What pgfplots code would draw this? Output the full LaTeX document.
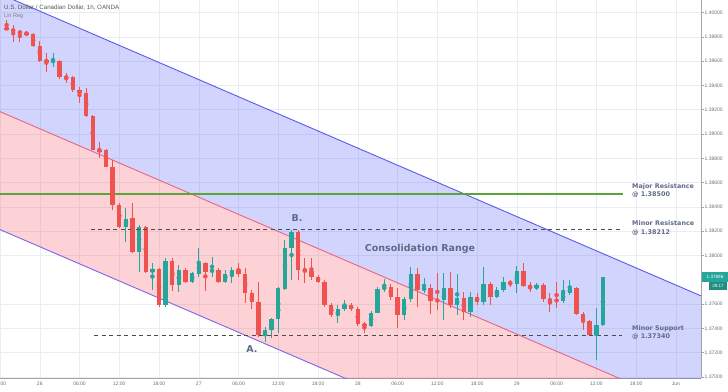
\documentclass[border=0pt]{standalone}
\usepackage{fontspec}
\setmainfont{Liberation Sans}
\newfontfamily\annotfont{DejaVu Sans}
\usepackage{pgfplots}
\usepackage{pgfplotstable}
\pgfplotsset{compat=1.18}
\definecolor{cup}{RGB}{38,166,154}
\definecolor{cdn}{RGB}{239,83,80}
\definecolor{bandblue}{RGB}{71,83,243}
\definecolor{bandred}{RGB}{243,75,95}
\definecolor{lineblue}{RGB}{88,92,232}
\definecolor{linered}{RGB}{236,100,130}
\definecolor{linepurple}{RGB}{125,100,232}
\definecolor{majgreen}{RGB}{90,165,55}
\definecolor{annot}{RGB}{96,106,136}
\definecolor{tickgray}{RGB}{110,110,120}
\definecolor{gridc}{RGB}{236,237,241}

\pgfplotstableread{
k o h l c u
0 1.39875 1.39938 1.39856 1.39864 0
1 1.39862 1.39897 1.39760 1.39845 0
2 1.39845 1.39856 1.39760 1.39829 0
3 1.39834 1.39850 1.39806 1.39817 0
4 1.39823 1.39829 1.39718 1.39724 0
5 1.39724 1.39768 1.39595 1.39603 0
6 1.39609 1.39664 1.39513 1.39595 0
7 1.39598 1.39664 1.39554 1.39603 1
8 1.39603 1.39609 1.39458 1.39472 0
9 1.39472 1.39500 1.39417 1.39463 0
10 1.39467 1.39477 1.39348 1.39362 0
11 1.39362 1.39389 1.39253 1.39335 0
12 1.39335 1.39376 1.39142 1.39148 0
13 1.39148 1.39156 1.38868 1.38874 0
14 1.38868 1.38937 1.38800 1.38862 0
15 1.38868 1.38874 1.38726 1.38731 0
16 1.38731 1.38786 1.38374 1.38416 0
17 1.38416 1.38430 1.38224 1.38237 0
18 1.38237 1.38388 1.38114 1.38304 1
19 1.38304 1.38430 1.38018 1.38031 0
20 1.38031 1.38251 1.37867 1.38237 1
21 1.38237 1.38243 1.37853 1.37867 0
22 1.37867 1.37938 1.37716 1.37886 1
23 1.37886 1.37895 1.37580 1.37593 0
24 1.37593 1.37977 1.37579 1.37955 1
25 1.37955 1.37977 1.37708 1.37757 0
26 1.37757 1.37922 1.37702 1.37881 1
27 1.37881 1.37895 1.37774 1.37784 0
28 1.37784 1.37867 1.37774 1.37853 1
29 1.37853 1.38059 1.37823 1.37938 1
30 1.37938 1.37949 1.37708 1.37867 0
31 1.37867 1.37990 1.37825 1.37881 1
32 1.37881 1.37895 1.37771 1.37784 0
33 1.37784 1.37881 1.37771 1.37848 1
34 1.37848 1.37908 1.37771 1.37881 1
35 1.37881 1.37936 1.37825 1.37848 0
36 1.37848 1.37897 1.37609 1.37691 0
37 1.37691 1.37716 1.37560 1.37620 0
38 1.37620 1.37784 1.37332 1.37346 0
39 1.37346 1.37414 1.37291 1.37387 1
40 1.37387 1.37483 1.37319 1.37475 1
41 1.37475 1.37743 1.37360 1.37730 1
42 1.37730 1.38128 1.37716 1.38062 1
43 1.38062 1.38210 1.37798 1.38196 1
44 1.38196 1.38210 1.37798 1.37886 0
45 1.37886 1.37977 1.37771 1.37875 0
46 1.37875 1.37977 1.37798 1.37821 0
47 1.37821 1.37840 1.37774 1.37784 0
48 1.37784 1.37798 1.37579 1.37593 0
49 1.37593 1.37607 1.37496 1.37510 0
50 1.37510 1.37593 1.37444 1.37557 1
51 1.37557 1.37634 1.37543 1.37593 1
52 1.37593 1.37609 1.37543 1.37557 0
53 1.37557 1.37576 1.37420 1.37436 0
54 1.37436 1.37455 1.37360 1.37420 0
55 1.37420 1.37543 1.37412 1.37529 1
56 1.37529 1.37743 1.37524 1.37722 1
57 1.37722 1.37804 1.37702 1.37743 1
58 1.37743 1.37771 1.37634 1.37661 0
59 1.37661 1.37730 1.37401 1.37510 0
60 1.37510 1.37661 1.37469 1.37640 1
61 1.37640 1.37908 1.37620 1.37848 1
62 1.37848 1.37895 1.37579 1.37722 0
63 1.37722 1.37812 1.37689 1.37730 1
64 1.37730 1.37771 1.37524 1.37628 0
65 1.37634 1.37853 1.37551 1.37628 0
66 1.37634 1.37853 1.37469 1.37730 1
67 1.37730 1.37867 1.37565 1.37593 0
68 1.37593 1.37853 1.37510 1.37648 1
69 1.37648 1.37702 1.37469 1.37537 0
70 1.37537 1.37702 1.37496 1.37661 1
71 1.37661 1.37689 1.37593 1.37620 0
72 1.37620 1.37908 1.37593 1.37763 1
73 1.37763 1.37784 1.37593 1.37661 0
74 1.37661 1.37743 1.37648 1.37716 1
75 1.37716 1.37825 1.37702 1.37779 1
76 1.37779 1.37798 1.37743 1.37771 0
77 1.37771 1.37914 1.37689 1.37872 1
78 1.37872 1.37941 1.37738 1.37749 0
79 1.37743 1.37784 1.37702 1.37730 0
80 1.37730 1.37771 1.37716 1.37757 1
81 1.37757 1.37771 1.37620 1.37640 0
82 1.37640 1.37689 1.37537 1.37628 0
83 1.37634 1.37784 1.37565 1.37628 0
84 1.37628 1.37798 1.37607 1.37694 1
85 1.37694 1.37798 1.37675 1.37730 1
86 1.37730 1.37743 1.37510 1.37519 0
87 1.37519 1.37537 1.37387 1.37461 0
88 1.37461 1.37469 1.37337 1.37346 0
89 1.37346 1.37565 1.37140 1.37428 1
90 1.37428 1.37825 1.37420 1.37821 1
}\candles

\pgfplotstableread{
x y
-1 1.3851
93 1.3851
}\majorres

\begin{document}
\begin{tikzpicture}
\begin{axis}[
  at={(0pt,0pt)}, anchor=south west,
  width=701pt, height=378pt, scale only axis,
  xmin=-1, xmax=104.8, ymin=1.369918, ymax=1.401027,
  axis x line*=bottom, axis y line*=right,
  axis line style={draw=black!35, line width=0.8pt},
  xtick={-1,5,...,101},
  xticklabels={18:00,26,06:00,12:00,18:00,27,06:00,12:00,18:00,28,06:00,12:00,18:00,29,06:00,12:00,18:00,Jun},
  ytick={1.370,1.372,1.374,1.376,1.380,1.382,1.384,1.386,1.388,1.390,1.392,1.394,1.396,1.398,1.400},
  scaled y ticks=false,
  yticklabel style={font=\fontsize{5}{6}\selectfont, text=tickgray, inner sep=1pt,
    /pgf/number format/fixed, /pgf/number format/fixed zerofill,
    /pgf/number format/precision=5, /pgf/number format/assume math mode=true},
  xticklabel style={font=\fontsize{5}{6}\selectfont, text=tickgray, inner sep=1pt},
  tick align=outside,
  major tick length=2.5pt,
  xtick style={draw=none},
  ytick style={draw=black!35, line width=0.5pt},
  grid=major,
  major grid style={draw=gridc, line width=0.5pt},
]
% regression channel
\addplot[fill=bandblue, fill opacity=0.25, draw=none] coordinates {(-1,1.40152) (105,1.37663) (105,1.36695) (-1,1.39184)} -- cycle;
\addplot[fill=bandred, fill opacity=0.25, draw=none] coordinates {(-1,1.39184) (105,1.36695) (105,1.35724) (-1,1.38213)} -- cycle;
\addplot[lineblue, line width=0.9pt] coordinates {(-1,1.40152) (105,1.37663)};
\addplot[linered, line width=0.9pt] coordinates {(-1,1.39184) (105,1.36695)};
\addplot[linepurple, line width=0.9pt] coordinates {(-1,1.38213) (105,1.35724)};
% major resistance
\addplot[color=majgreen, solid, line width=2pt] table[x=x, y=y] {\majorres};
% candles: wicks
\addplot[cdn, only marks, mark=none, restrict expr to domain={\thisrow{u}}{-0.5:0.5},
  error bars/.cd, y dir=both, y explicit, error mark=none,
  error bar style={line width=0.9pt, cdn}]
  table[x=k, y expr={(\thisrow{h}+\thisrow{l})/2}, y error expr={(\thisrow{h}-\thisrow{l})/2}] {\candles};
\addplot[cup, only marks, mark=none, restrict expr to domain={\thisrow{u}}{0.5:1.5},
  error bars/.cd, y dir=both, y explicit, error mark=none,
  error bar style={line width=0.9pt, cup}]
  table[x=k, y expr={(\thisrow{h}+\thisrow{l})/2}, y error expr={(\thisrow{h}-\thisrow{l})/2}] {\candles};
% candles: bodies
\addplot[cdn, only marks, mark=none, restrict expr to domain={\thisrow{u}}{-0.5:0.5},
  error bars/.cd, y dir=both, y explicit, error mark=none,
  error bar style={line width=4.4pt, cdn}]
  table[x=k, y expr={(\thisrow{o}+\thisrow{c})/2}, y error expr={abs(\thisrow{o}-\thisrow{c})/2+0.00001}] {\candles};
\addplot[cup, only marks, mark=none, restrict expr to domain={\thisrow{u}}{0.5:1.5},
  error bars/.cd, y dir=both, y explicit, error mark=none,
  error bar style={line width=4.4pt, cup}]
  table[x=k, y expr={(\thisrow{o}+\thisrow{c})/2}, y error expr={abs(\thisrow{o}-\thisrow{c})/2+0.00001}] {\candles};
% dashed levels
\addplot[black!70, line width=0.7pt, dash pattern=on 4pt off 3.5pt] coordinates {(12.7,1.38212) (92.9,1.38212)};
\addplot[black!70, line width=0.7pt, dash pattern=on 4pt off 3.5pt] coordinates {(13.2,1.37340) (92.9,1.37340)};
\end{axis}
% texts
\node[anchor=west, inner sep=0pt, font=\fontsize{6.2}{7}\selectfont, text=black!65] at (4pt,370.7pt) {U.S. Dollar / Canadian Dollar, 1h, OANDA};
\node[anchor=west, inner sep=0pt, font=\fontsize{5.5}{6}\selectfont, text=black!50] at (4pt,362.3pt) {Lin Reg};
\node[inner sep=0pt, font=\annotfont\bfseries\fontsize{9.5}{11}\selectfont, text=annot] at (420pt,129pt) {Consolidation Range};
\node[inner sep=0pt, font=\annotfont\bfseries\fontsize{9.5}{11}\selectfont, text=annot] at (297pt,160pt) {B.};
\node[inner sep=0pt, font=\annotfont\bfseries\fontsize{9.5}{11}\selectfont, text=annot] at (252pt,29pt) {A.};
\node[anchor=west, align=left, inner sep=0pt, font=\annotfont\bfseries\fontsize{6.4}{8.5}\selectfont, text=annot] at (632pt,187.5pt) {Major Resistance\\@ 1.38500};
\node[anchor=west, align=left, inner sep=0pt, font=\annotfont\bfseries\fontsize{6.4}{8.5}\selectfont, text=annot] at (632pt,150pt) {Minor Resistance\\@ 1.38212};
\node[anchor=west, align=left, inner sep=0pt, font=\annotfont\bfseries\fontsize{6.4}{8.5}\selectfont, text=annot] at (632pt,45.5pt) {Minor Support\\@ 1.37340};
% last price label
\fill[cup] (702pt,106pt) rectangle (728pt,96pt);
\node[text=white, inner sep=0pt, font=\fontsize{4.6}{5}\selectfont] at (715pt,101pt) {1.37896};
\fill[cup!85!black] (709pt,96pt) rectangle (727pt,88pt);
\node[text=white, inner sep=0pt, font=\fontsize{4.6}{5}\selectfont] at (718pt,92pt) {28:17};
\pgfresetboundingbox
\path[use as bounding box] (0pt,-13pt) rectangle (728pt,378pt);
\end{tikzpicture}
\end{document}
